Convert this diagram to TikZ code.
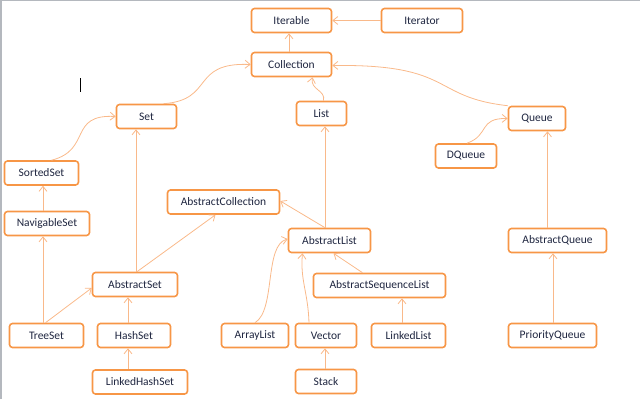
\documentclass[tikz,border=0pt]{standalone}
\usepackage{fontspec}
\setmainfont{Carlito}
\usetikzlibrary{arrows.meta}
\definecolor{boxorange}{HTML}{F79646}
\definecolor{linkorange}{HTML}{F9B98A}
\definecolor{classtext}{HTML}{1F2640}
\definecolor{pagegray}{HTML}{B4B8BE}

\begin{document}
\begin{tikzpicture}[
    x=1pt, y=-1pt,
    cls/.style={draw=boxorange, line width=1.6pt, rounded corners=3pt, fill=white, minimum height=24pt, inner sep=0pt, text=classtext, font=\fontsize{11.5}{13}\selectfont},
    link/.style={-{Straight Barb[length=5pt,width=8pt]}, line width=0.8pt, color=linkorange},
]
    \useasboundingbox (0,0) rectangle (640,399);
    % page edges and text cursor
    \draw[pagegray, line width=1.5pt] (0.75,399) -- (0.75,0.5) -- (640,0.5);
    \draw[black, line width=1pt] (80,78) -- (80,92);

    % interfaces
    \node[cls, minimum width=80pt] (iterable) at (291.5,20.5) {Iterable};
    \node[cls, minimum width=81pt] (iterator) at (422,20.5) {Iterator};
    \node[cls, minimum width=80pt] (coll) at (291.5,64.5) {Collection};
    \node[cls, minimum width=60pt] (set) at (146.5,116.5) {Set};
    \node[cls, minimum width=50pt] (list) at (321.5,113.5) {List};
    \node[cls, minimum width=57pt] (queue) at (537,118.5) {Queue};
    \node[cls, minimum width=61pt] (dqueue) at (466,156) {DQueue};
    \node[cls, minimum width=74pt] (sortedset) at (41.5,173) {SortedSet};
    \node[cls, minimum width=85pt] (navset) at (47,223.5) {NavigableSet};

    % abstract classes
    \node[cls, minimum width=112pt] (abscoll) at (223.5,202) {AbstractCollection};
    \node[cls, minimum width=82pt] (abslist) at (329.5,240.5) {AbstractList};
    \node[cls, minimum width=132pt] (absseq) at (379.5,285.5) {AbstractSequenceList};
    \node[cls, minimum width=85pt] (absset) at (135,284.5) {AbstractSet};
    \node[cls, minimum width=98pt] (absqueue) at (557.5,240.5) {AbstractQueue};

    % concrete classes
    \node[cls, minimum width=74pt] (treeset) at (46.5,335.5) {TreeSet};
    \node[cls, minimum width=73pt] (hashset) at (134,335.5) {HashSet};
    \node[cls, minimum width=95pt] (lhashset) at (140,382) {LinkedHashSet};
    \node[cls, minimum width=67pt] (arraylist) at (255,335.5) {ArrayList};
    \node[cls, minimum width=61pt] (vector) at (326,335.5) {Vector};
    \node[cls, minimum width=74pt] (linkedlist) at (408.5,335.5) {LinkedList};
    \node[cls, minimum width=61pt] (stack) at (326,381.5) {Stack};
    \node[cls, minimum width=88pt] (pqueue) at (552.5,335.5) {PriorityQueue};

    % top of the hierarchy
    \draw[link] (iterator) -- (iterable);
    \draw[link] ([xshift=-2.5pt]coll.north) -- ([xshift=-2.5pt]coll.north |- iterable.south);
    \draw[link] ([xshift=17pt]set.north) .. controls (215,100) and (190,62) .. (coll.west);
    \draw[link] ([xshift=2pt]list.north) .. controls (326,90) and (310,90) .. ([xshift=21pt]coll.south);
    \draw[link] (queue.north west) .. controls (430,97) and (455,64) .. ([yshift=-1pt]coll.east);

    % sets
    \draw[link] ([xshift=10pt]sortedset.north) .. controls (92,150) and (68,114) .. (set.west);
    \draw[link] ([xshift=-4pt]navset.north) -- ([xshift=-4pt]navset.north |- sortedset.south);
    \draw[link] ([xshift=-3.5pt]treeset.north) -- ([xshift=-3.5pt]treeset.north |- navset.south);
    \draw[link] ([xshift=-1pt]treeset.north) -- ([yshift=-3.5pt]absset.west);
    \draw[link] ([xshift=-6pt]hashset.north) -- ([xshift=-6pt]hashset.north |- absset.south);
    \draw[link] ([xshift=-12pt]lhashset.north) -- ([xshift=-12pt]lhashset.north |- hashset.south);
    \draw[link] ([xshift=1pt]absset.north) -- ([xshift=1pt]absset.north |- set.south);
    \draw[link] ([xshift=2pt]absset.north) -- ([xshift=-8pt]abscoll.south);

    % lists
    \draw[link] ([xshift=-4.5pt]abslist.north) -- ([yshift=1pt]abscoll.east);
    \draw[link] ([xshift=-4.5pt]abslist.north) -- ([xshift=-4.5pt]abslist.north |- list.south);
    \draw[link] ([xshift=-17pt]absseq.north) -- ([xshift=4pt]abslist.south);
    \draw[link] ([xshift=-6.5pt]linkedlist.north) -- ([xshift=-6.5pt]linkedlist.north |- absseq.south);
    \draw[link] (arraylist.north) .. controls (276,310) and (264,245) .. ([yshift=1.5pt]abslist.west);
    \draw[link] ([xshift=-17pt]vector.north) .. controls (308,292) and (300,280) .. ([xshift=-27pt]abslist.south);
    \draw[link] ([xshift=-1pt]stack.north) -- ([xshift=-1pt]stack.north |- vector.south);

    % queues
    \draw[link] ([xshift=1pt]dqueue.north) .. controls (490,135) and (478,118) .. (queue.west);
    \draw[link] ([xshift=-10pt]absqueue.north) -- ([xshift=-10pt]absqueue.north |- queue.south);
    \draw[link] ([xshift=0.5pt]pqueue.north) -- ([xshift=0.5pt]pqueue.north |- absqueue.south);
\end{tikzpicture}
\end{document}
